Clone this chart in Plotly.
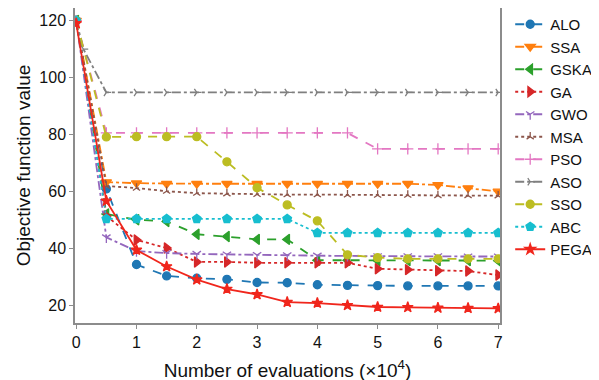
import plotly.graph_objects as go

x_vals = [0, 0.5, 1, 1.5, 2, 2.5, 3, 3.5, 4, 4.5, 5, 5.5, 6, 6.5, 7]
x_aso = [0, 0.12, 0.5, 1, 1.5, 2, 2.5, 3, 3.5, 4, 4.5, 5, 5.5, 6, 6.5, 7]

alo = [120, 61, 34.5, 30.5, 29.7, 29.3, 28.2, 28.1, 27.4, 27.2, 27.1, 27.0, 27.0, 27.0, 27.0]
ssa = [120, 63.4, 63.0, 62.8, 62.8, 62.8, 62.8, 62.8, 62.8, 62.8, 62.8, 62.8, 62.4, 61.3, 60.1]
gska = [120, 52.2, 50.2, 49.6, 45.1, 44.3, 43.3, 43.3, 36.0, 36.0, 35.9, 35.9, 35.9, 35.9, 35.8]
ga = [120, 51.5, 43.1, 40.3, 35.4, 35.4, 35.1, 35.1, 35.1, 35.1, 33.0, 32.7, 32.3, 32.2, 30.8]
gwo = [120, 44.0, 39.2, 38.5, 38.2, 38.0, 37.8, 37.7, 37.6, 37.5, 37.4, 37.4, 37.4, 37.3, 37.3]
msa = [120, 62.0, 61.3, 60.2, 59.5, 59.3, 59.1, 59.0, 59.0, 58.9, 58.8, 58.8, 58.7, 58.7, 58.6]
pso = [120, 80.6, 80.6, 80.6, 80.6, 80.6, 80.6, 80.6, 80.6, 80.6, 75.0, 75.0, 75.0, 75.0, 75.0]
aso = [120, 110, 94.8, 94.8, 94.8, 94.8, 94.8, 94.8, 94.8, 94.8, 94.8, 94.8, 94.8, 94.8, 94.8, 94.8]
sso = [120, 79.2, 79.3, 79.3, 79.3, 70.5, 61.4, 55.4, 49.8, 37.9, 36.9, 36.5, 36.5, 36.5, 36.5]
abc = [120, 50.5, 50.5, 50.5, 50.5, 50.5, 50.5, 50.5, 45.6, 45.6, 45.6, 45.6, 45.6, 45.6, 45.6]
pega = [119, 56.8, 39.6, 33.8, 29.2, 25.9, 24.0, 21.3, 21.0, 20.2, 19.6, 19.5, 19.3, 19.2, 19.1]

x_ticks = [0, 1, 2, 3, 4, 5, 6, 7]
y_ticks = [20, 40, 60, 80, 100, 120]

series = [
    ("ALO", x_vals, alo, "#1f77b4", "dash", "circle", 8),
    ("SSA", x_vals, ssa, "#ff7f0e", "dashdot", "triangle-down", 9),
    ("GSKA", x_vals, gska, "#2ca02c", "dash", "triangle-left", 9),
    ("GA", x_vals, ga, "#d62728", "dot", "triangle-right", 9),
    ("GWO", x_vals, gwo, "#9467bd", "dashdot", "y-down-open", 7),
    ("MSA", x_vals, msa, "#8c564b", "dot", "y-up-open", 6),
    ("PSO", x_vals, pso, "#e377c2", "dash", "cross-thin-open", 8),
    ("ASO", x_aso, aso, "#7f7f7f", "dashdot", "y-right-open", 6),
    ("SSO", x_vals, sso, "#bcbd22", "dash", "circle", 8),
    ("ABC", x_vals, abc, "#17becf", "dot", "pentagon", 9),
    ("PEGA", x_vals, pega, "#f0261c", "solid", "star", 8),
]

fig = go.Figure()
for name, xs, ys, color, dash, sym, size in series:
    fig.add_trace(go.Scatter(
        x=xs, y=ys, name=name, mode="lines+markers",
        line=dict(color=color, dash=dash, width=1.8),
        marker=dict(symbol=sym, size=size, color=color,
                    line=dict(color=color, width=1.3)),
    ))

axis_common = dict(
    showgrid=False, zeroline=False, showline=True, mirror=True,
    linecolor="#8c8c8c", linewidth=1.5, ticks="outside", ticklen=4,
    tickcolor="#8c8c8c", tickfont=dict(size=16, color="#111"),
    automargin=False,
)

fig.update_layout(
    width=599, height=380,
    margin=dict(l=67, r=107, t=0, b=65, autoexpand=False),
    paper_bgcolor="white", plot_bgcolor="white",
    font=dict(family="Liberation Sans, Arial, sans-serif", size=16, color="#111"),
    showlegend=True,
    legend=dict(x=1.024, y=1.0, xanchor="left", yanchor="top",
                font=dict(size=15), itemwidth=30, tracegroupgap=0,
                bgcolor="rgba(0,0,0,0)"),
    xaxis=dict(range=[-0.02, 7.03], tickvals=x_ticks,
               title=dict(text="Number of evaluations (×10<sup>4</sup>)", standoff=14),
               **axis_common),
    yaxis=dict(range=[14, 124.4], tickvals=y_ticks,
               title=dict(text="Objective function value", standoff=4),
               **axis_common),
)

fig.write_html("out.html")
